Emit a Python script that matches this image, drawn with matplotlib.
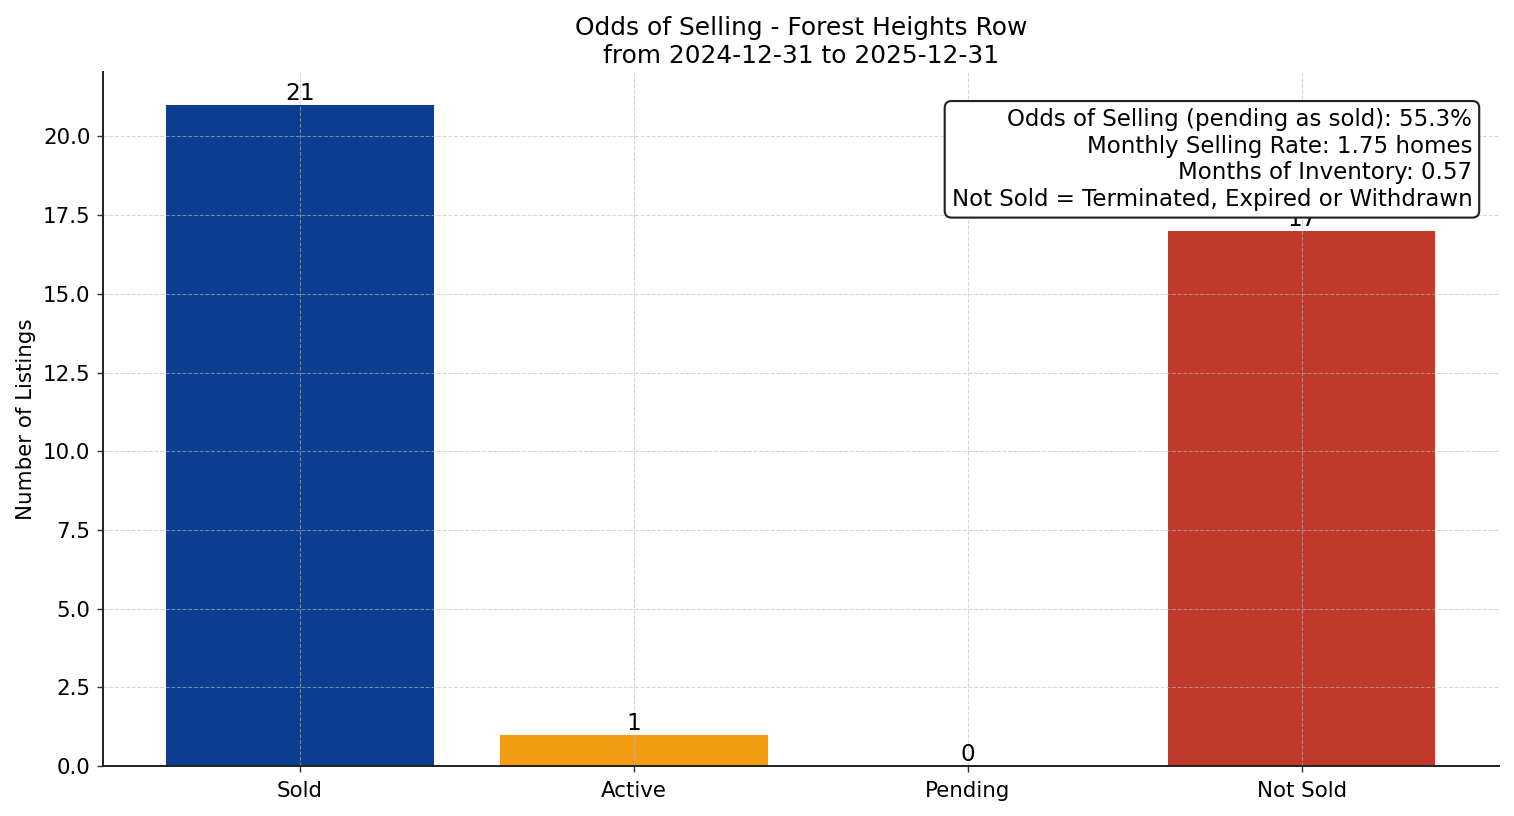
import matplotlib
matplotlib.use("Agg")
import matplotlib.pyplot as plt

categories = ["Sold", "Active", "Pending", "Not Sold"]
counts = [21, 1, 0, 17]
colors = ["#0b3d91", "#f39c12", "#27ae60", "#c0392b"]
title = "Odds of Selling - Forest Heights Row\nfrom 2024-12-31 to 2025-12-31"
info_lines = [
    "Odds of Selling (pending as sold): 55.3%",
    "Monthly Selling Rate: 1.75 homes",
    "Months of Inventory: 0.57",
    "Not Sold = Terminated, Expired or Withdrawn",
]

DPI = 128
fig, ax = plt.subplots(figsize=(1514 / DPI, 816 / DPI), dpi=DPI)
fig.subplots_adjust(left=0.068, right=0.990, top=0.912, bottom=0.061)

bars = ax.bar(categories, counts, color=colors, width=0.8)
for b, v in zip(bars, counts):
    ax.text(b.get_x() + b.get_width() / 2, v, str(v), ha="center", va="bottom", fontsize=13)

ax.set_ylim(0, max(counts) * 1.05)
ax.set_title(title, fontsize=14, pad=5)
ax.set_ylabel("Number of Listings", fontsize=12)
ax.tick_params(labelsize=12, color="#333333")
ax.tick_params(axis="x", pad=5)
ax.grid(True, linestyle="--", color="#bbbbbb", alpha=0.6, linewidth=0.6)
for s in ("left", "bottom"):
    ax.spines[s].set_color("#222222")
    ax.spines[s].set_linewidth(1.1)
ax.spines["top"].set_visible(False)
ax.spines["right"].set_visible(False)

ax.text(0.981, 0.948, "\n".join(info_lines), transform=ax.transAxes, ha="right", va="top",
        fontsize=12.9, zorder=5,
        bbox=dict(boxstyle="round,pad=0.3", facecolor="white", edgecolor="#222222", linewidth=1.2))

fig.savefig("out.png", dpi=DPI)
